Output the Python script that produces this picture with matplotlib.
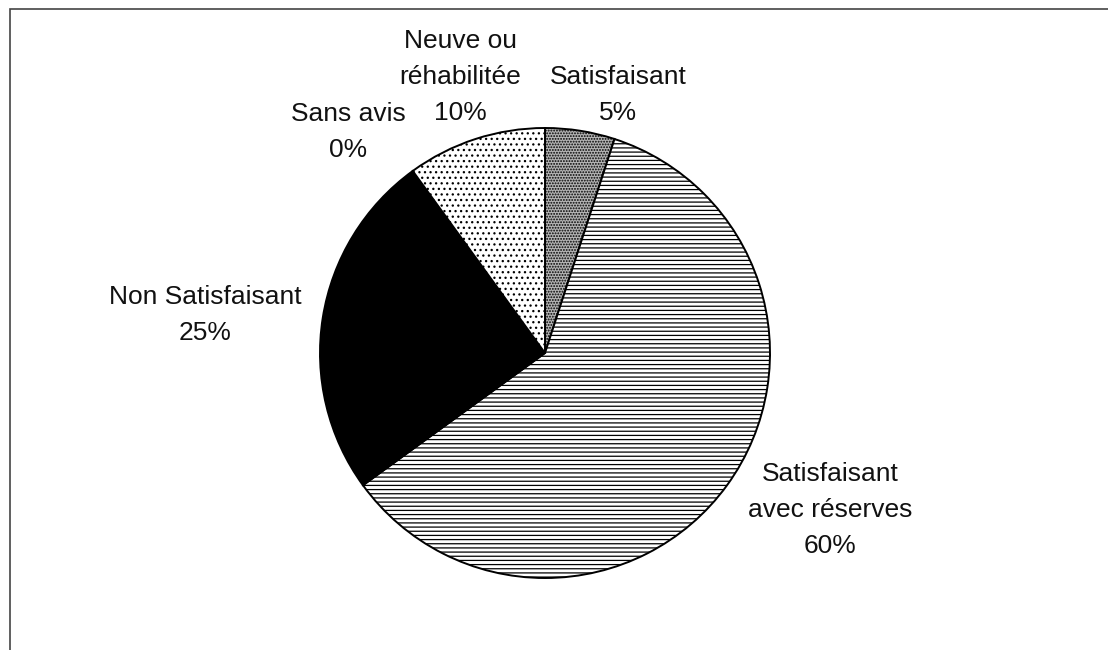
import matplotlib
matplotlib.use("Agg")
import matplotlib.pyplot as plt
from matplotlib.patches import Rectangle

# data (clockwise from 12 o'clock)
categories = ["Satisfaisant", "Satisfaisant avec réserves", "Non Satisfaisant",
              "Sans avis", "Neuve ou réhabilitée"]
shares = [5, 60, 25, 0, 10]
label_lines = [
    ["Satisfaisant", "5%"],
    ["Satisfaisant", "avec réserves", "60%"],
    ["Non Satisfaisant", "25%"],
    ["Sans avis", "0%"],
    ["Neuve ou", "réhabilitée", "10%"],
]

# styles per wedge
faces = ["#b4b4b4", "white", "black", "white", "white"]
hatches = ["......", "----", None, None, "..."]

# layout in pixels (y measured from top), last-line baseline of each label
label_pos = [(618, 120), (830, 553), (205, 340), (348, 157), (460, 120)]
LINE_STEP = 36
W, H = 1108, 650
CENTER = (545, 353)
RADIUS = 225

plt.rcParams["hatch.linewidth"] = 0.9

fig = plt.figure(figsize=(W / 100, H / 100), dpi=100)
ax = fig.add_axes([0, 0, 1, 1])
ax.set_xlim(0, W)
ax.set_ylim(0, H)
ax.set_aspect("equal")
ax.axis("off")

wedges, _ = ax.pie(shares, startangle=90, counterclock=False,
                   center=(CENTER[0], H - CENTER[1]), radius=RADIUS,
                   wedgeprops=dict(edgecolor="black", linewidth=1.4))
ax.set_xlim(0, W)
ax.set_ylim(0, H)
for w, fc, h in zip(wedges, faces, hatches):
    w.set_facecolor(fc)
    if h:
        w.set_hatch(h)

for lines, (x, y_last) in zip(label_lines, label_pos):
    n = len(lines)
    for i, txt in enumerate(lines):
        y = y_last - (n - 1 - i) * LINE_STEP
        ax.text(x, H - y, txt, ha="center", va="baseline", fontsize=19,
                family="Liberation Sans", color="#111111")

# scanned frame: only top and left edges show
ax.add_patch(Rectangle((10, -20), W + 40, H - 9 + 20, fill=False,
                       edgecolor="#444444", linewidth=1.2, clip_on=False))

fig.savefig("out.png", dpi=100)
